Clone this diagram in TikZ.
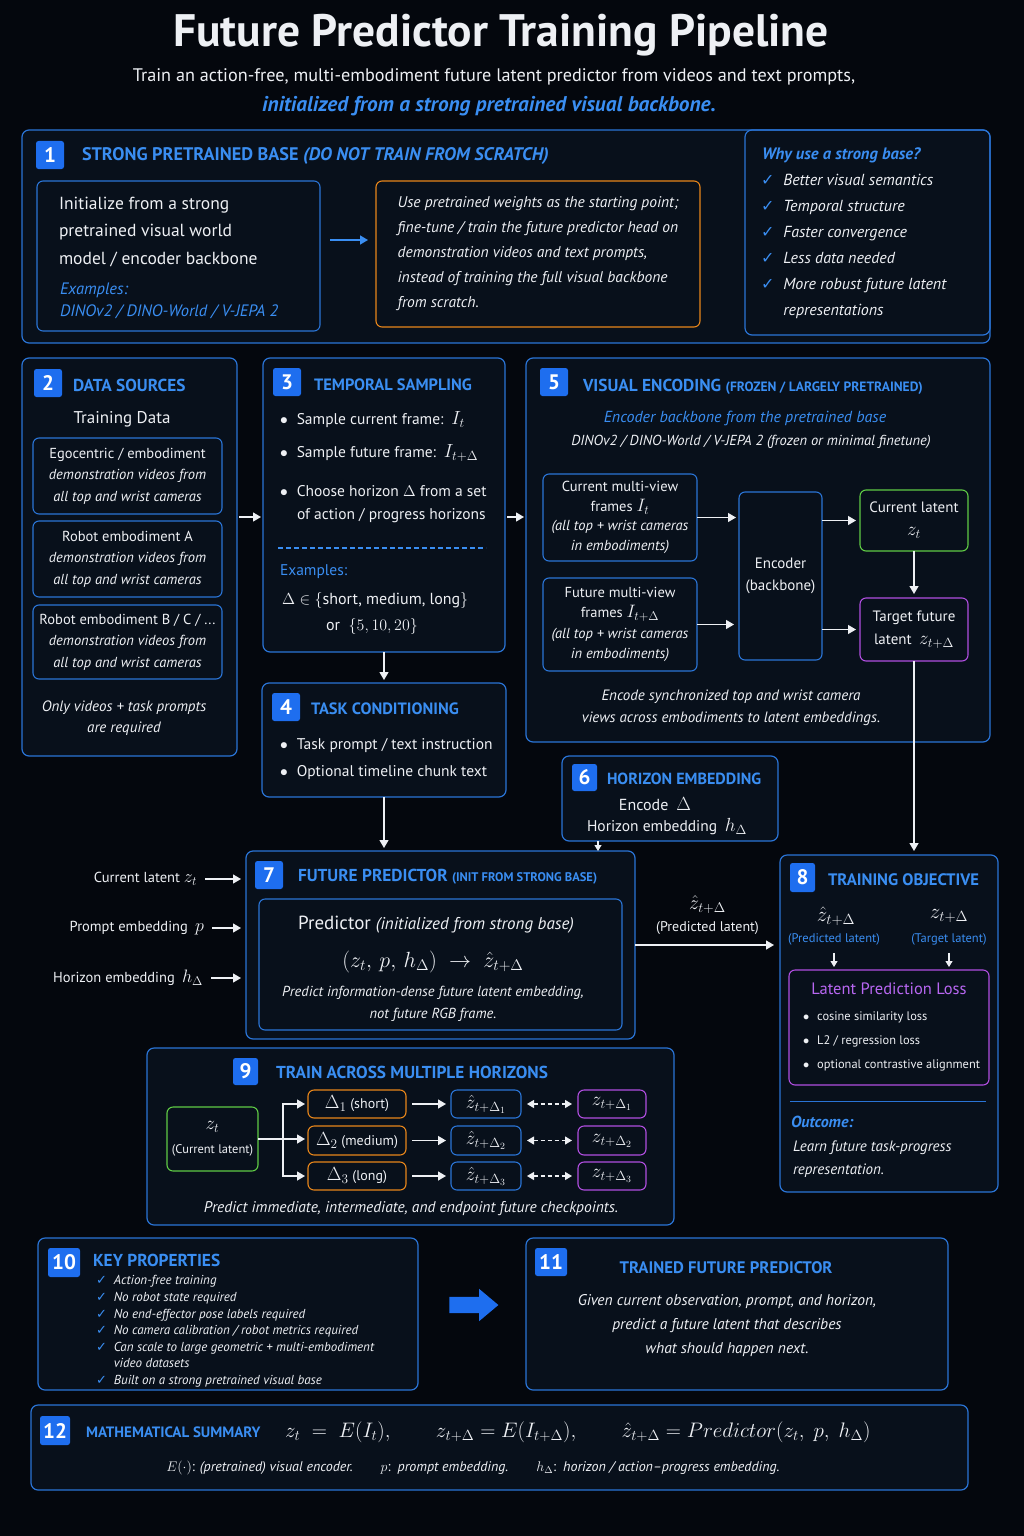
\RequirePackage{fix-cm}
\documentclass[tikz,border=0pt]{standalone}
\usepackage{fontspec}
\setmainfont{PT Sans}
\newfontfamily\symfont{DejaVu Sans}
\usetikzlibrary{arrows.meta,positioning,calc,shapes.arrows}

\definecolor{bgc}{HTML}{04070D}
\definecolor{panelc}{HTML}{08101B}
\definecolor{edgec}{HTML}{2A74D6}
\definecolor{headc}{HTML}{3A8EF2}
\definecolor{badgec}{HTML}{1E6EEF}
\definecolor{orangec}{HTML}{E8861A}
\definecolor{greenc}{HTML}{5FCB45}
\definecolor{purplec}{HTML}{B04EE0}
\definecolor{lossc}{HTML}{B867F2}
\definecolor{txtc}{HTML}{EEF0F4}

\newcommand\fsz[2]{\fontsize{#1}{#2}\selectfont}
\newcommand\ck{{\color{headc}\symfont\bfseries ✓}}

\begin{document}
\begin{tikzpicture}[x=1pt,y=-1pt,>=Stealth,
every node/.append style={text=txtc,inner sep=0pt,outer sep=0pt},
panel/.style={draw=edgec,line width=1.2pt,rounded corners=7pt,fill=panelc,anchor=north west},
inbox/.style={draw=edgec,line width=1.1pt,rounded corners=6pt,anchor=north west,align=center},
orbox/.style={inbox,draw=orangec},
grbox/.style={inbox,draw=greenc},
pubox/.style={inbox,draw=purplec},
badge/.style={fill=badgec,rounded corners=2.5pt,text=white,font=\bfseries\fsz{21}{21},minimum width=28pt,minimum height=28pt,anchor=north west},
head/.style={text=headc,font=\bfseries\fsz{17.3}{20},anchor=west},
arr/.style={-{Triangle[width=9pt,length=8pt]},draw=txtc,line width=1.3pt},
sarr/.style={-{Triangle[width=7pt,length=6pt]},draw=txtc,line width=1.1pt},
darr/.style={{Triangle[width=8pt,length=7pt]}-{Triangle[width=8pt,length=7pt]},draw=txtc,line width=1.2pt,dash pattern=on 4pt off 3pt}]
\fill[bgc] (0,0) rectangle (1024,1536);
\useasboundingbox (0,0) rectangle (1024,1536);

% title
\node[font=\bfseries\fsz{45.5}{48}] (title) at (501,35) {Future Predictor Training Pipeline};
\node[font=\fsz{18.2}{20}] (sub) at (494,77) {Train an action-free, multi-embodiment future latent predictor from videos and text prompts,};
\node[text=headc,font=\bfseries\itshape\fsz{21.3}{24}] (sub2) at (489,106) {initialized from a strong pretrained visual backbone.};

% 1 strong base
\node[panel,minimum width=968pt,minimum height=213pt] (p1) at (22,130) {};
\node[draw=edgec,line width=1.2pt,rounded corners=7pt,anchor=north west,minimum width=245pt,minimum height=205pt] (why) at (745,130) {};
\node[badge] (b1) at (36,141) {1};
\node[head,font=\bfseries\fsz{18.2}{20}] (h1) at (82,156) {STRONG PRETRAINED BASE \textit{(DO NOT TRAIN FROM SCRATCH)}};
\node[inbox,minimum width=283pt,minimum height=150pt] (base) at (37,181) {};
\node[anchor=west,align=left,font=\fsz{17.5}{27.5}] (basetxt) at (59,232) {Initialize from a strong\\pretrained visual world\\model / encoder backbone};
\node[anchor=west,align=left,text=headc,font=\itshape\fsz{16.5}{22}] (basex) at (60,301) {Examples:\\DINOv2 / DINO-World / V-JEPA 2};
\node[orbox,align=left,font=\itshape\fsz{15.5}{25},minimum width=324pt,minimum height=146pt] (reuse) at (376,181) {Use pretrained weights as the starting point;\\fine-tune / train the future predictor head on\\demonstration videos and text prompts,\\instead of training the full visual backbone\\from scratch.};
\node[anchor=west,text=headc,font=\bfseries\itshape\fsz{16.5}{20}] (whyt) at (762,155) {Why use a strong base?};
\node[anchor=west,align=left,font=\itshape\fsz{16}{26}] (whyl) at (761,246) {\ck\hspace{9pt}Better visual semantics\\\ck\hspace{9pt}Temporal structure\\\ck\hspace{9pt}Faster convergence\\\ck\hspace{9pt}Less data needed\\\ck\hspace{9pt}More robust future latent\\\hphantom{\ck}\hspace{9pt}representations};

% 2 data sources
\node[panel,minimum width=215pt,minimum height=398pt] (p2) at (22,358) {};
\node[badge] (b2) at (34,369) {2};
\node[head] (h2) at (73,385) {DATA SOURCES};
\node[font=\fsz{17}{20}] (train) at (122,419) {Training Data};
\node[inbox,font=\fsz{14.5}{21.5},minimum width=189pt,minimum height=76pt] (ego) at (33,438) {Egocentric / embodiment\\\textit{demonstration videos from}\\\textit{all top and wrist cameras}};
\node[inbox,font=\fsz{14.5}{21.5},minimum width=189pt,minimum height=76pt] (roba) at (33,521) {Robot embodiment A\\\textit{demonstration videos from}\\\textit{all top and wrist cameras}};
\node[inbox,font=\fsz{14.5}{21.5},minimum width=189pt,minimum height=74pt] (robb) at (33,605) {Robot embodiment B / C / ...\\\textit{demonstration videos from}\\\textit{all top and wrist cameras}};
\node[align=center,font=\itshape\fsz{15}{21}] (only) at (124,718) {Only videos + task prompts\\are required};

% 3 temporal sampling
\node[panel,minimum width=242pt,minimum height=294pt] (p3) at (263,358) {};
\node[badge] (b3) at (273,368) {3};
\node[head,font=\bfseries\fsz{16.4}{20}] (h3) at (314,385) {TEMPORAL SAMPLING};
\node[anchor=west,font=\fsz{15.5}{20}] (samp1) at (280,420) {$\bullet$\hspace{9pt}Sample current frame:\enspace{\fsz{19}{20}$I_t$}};
\node[anchor=west,font=\fsz{15.5}{20}] (samp2) at (280,453) {$\bullet$\hspace{9pt}Sample future frame:\enspace{\fsz{19}{20}$I_{t+\Delta}$}};
\node[anchor=west,font=\fsz{15.5}{20}] (samp3) at (280,491) {$\bullet$\hspace{9pt}Choose horizon $\Delta$ from a set};
\node[anchor=west,font=\fsz{15.5}{20}] (samp4) at (297,516) {of action / progress horizons};
\draw[headc,line width=1.2pt,dash pattern=on 5pt off 3pt] (278,548) -- (486,548);
\node[anchor=west,text=headc,font=\fsz{15.5}{20}] (ex3) at (280,572) {Examples:};
\node[anchor=west,font=\fsz{16}{20}] (set1) at (282,600) {$\Delta\in\big\{$short, medium, long$\big\}$};
\node[font=\fsz{16}{20}] (set2) at (372,626) {or \ $\big\{5, 10, 20\big\}$};

% 4 task conditioning
\node[panel,minimum width=244pt,minimum height=114pt] (p4) at (262,683) {};
\node[badge] (b4) at (272,693) {4};
\node[head,font=\bfseries\fsz{16.4}{20}] (h4) at (311,709) {TASK CONDITIONING};
\node[anchor=west,font=\fsz{15.5}{20}] (cond1) at (280,746) {$\bullet$\hspace{9pt}Task prompt / text instruction};
\node[anchor=west,font=\fsz{15.5}{20}] (cond2) at (280,773) {$\bullet$\hspace{9pt}Optional timeline chunk text};

% 5 visual encoding
\node[panel,minimum width=464pt,minimum height=384pt] (p5) at (526,358) {};
\node[badge] (b5) at (540,368) {5};
\node[head] (h5) at (583,387) {VISUAL ENCODING {\fsz{13.5}{16}(FROZEN / LARGELY PRETRAINED)}};
\node[text=headc,font=\itshape\fsz{16}{20}] (encsub) at (745,418) {Encoder backbone from the pretrained base};
\node[font=\itshape\fsz{14.5}{20}] (encmod) at (751,442) {DINOv2 / DINO-World / V-JEPA 2 (frozen or minimal finetune)};
\node[inbox,font=\fsz{14.5}{19.5},minimum width=154pt,minimum height=87pt] (cur) at (543,474) {Current multi-view\\frames {\fsz{18}{19}$I_t$}\\\textit{(all top + wrist cameras}\\\textit{in embodiments)}};
\node[inbox,font=\fsz{14.5}{20.5},minimum width=154pt,minimum height=93pt] (fut) at (543,578) {Future multi-view\\frames {\fsz{18}{19}$I_{t+\Delta}$}\\\textit{(all top + wrist cameras}\\\textit{in embodiments)}};
\node[inbox,font=\fsz{15}{22},minimum width=83pt,minimum height=168pt] (enc) at (739,492) {Encoder\\(backbone)};
\node[grbox,font=\fsz{15}{23},minimum width=108pt,minimum height=61pt] (zt) at (860,490) {Current latent\\{\fsz{19}{19}$z_t$}};
\node[pubox,font=\fsz{15}{23},minimum width=108pt,minimum height=63pt] (tgt) at (860,598) {Target future\\latent\enspace{\fsz{19}{19}$z_{t+\Delta}$}};
\node[align=center,font=\itshape\fsz{15}{22}] (enccap) at (731,708) {Encode synchronized top and wrist camera\\views across embodiments to latent embeddings.};

% 6 horizon embedding
\node[panel,minimum width=216pt,minimum height=85pt] (p6) at (562,756) {};
\node[badge,minimum width=25pt,minimum height=27pt] (b6) at (572,764) {6};
\node[head,font=\bfseries\fsz{16.1}{20}] (h6) at (607,779) {HORIZON EMBEDDING};
\node[font=\fsz{16}{20}] (enc6) at (655,804) {Encode\enspace{\fsz{19}{20}$\Delta$}};
\node[font=\fsz{15.5}{20}] (hemb) at (667,827) {Horizon embedding\enspace{\fsz{19}{20}$h_\Delta$}};

% 7 future predictor
\node[panel,minimum width=389pt,minimum height=188pt] (p7) at (246,851) {};
\node[badge] (b7) at (255,861) {7};
\node[head] (h7) at (298,877) {FUTURE PREDICTOR {\fsz{12.5}{14}(INIT FROM STRONG BASE)}};
\node[inbox,minimum width=363pt,minimum height=131pt] (pred) at (259,899) {};
\node[font=\fsz{19}{22}] (predt) at (436,925) {Predictor \textit{\fsz{17}{20}(initialized from strong base)}};
\node[font=\fsz{22}{24}] (predf) at (433,962) {$(z_t,\, p,\, h_\Delta)\;\rightarrow\;\hat z_{t+\Delta}$};
\node[align=center,font=\itshape\fsz{14.5}{22}] (predc) at (433,1004) {Predict information-dense future latent embedding,\\not future RGB frame.};
\node[anchor=east,font=\fsz{14.5}{20}] (inz) at (197,879) {Current latent {\fsz{18}{20}$z_t$}};
\node[anchor=east,font=\fsz{14.5}{20}] (inp) at (204,928) {Prompt embedding\enspace{\fsz{18}{20}$p$}};
\node[anchor=east,font=\fsz{14.5}{20}] (inh) at (203,978) {Horizon embedding\enspace{\fsz{18}{20}$h_\Delta$}};

% 8 training objective
\node[panel,minimum width=218pt,minimum height=337pt] (p8) at (780,855) {};
\node[badge,minimum width=25pt,minimum height=29pt] (b8) at (790,863) {8};
\node[head,font=\bfseries\fsz{16.6}{20}] (h8) at (828,880) {TRAINING OBJECTIVE};
\node[font=\fsz{21}{22}] (pz) at (836,916) {$\hat z_{t+\Delta}$};
\node[text=headc,font=\fsz{12.5}{15}] (plab) at (834,939) {(Predicted latent)};
\node[font=\fsz{21}{22}] (tz) at (949,916) {$z_{t+\Delta}$};
\node[text=headc,font=\fsz{12.5}{15}] (tlab) at (949,939) {(Target latent)};
\node[pubox,minimum width=200pt,minimum height=115pt] (loss) at (789,970) {};
\node[text=lossc,font=\fsz{16.5}{20}] (losst) at (889,989) {Latent Prediction Loss};
\node[anchor=west,align=left,font=\fsz{12.4}{24}] (lossl) at (803,1041) {$\bullet$\hspace{8pt}cosine similarity loss\\$\bullet$\hspace{8pt}L2 / regression loss\\$\bullet$\hspace{8pt}optional contrastive alignment};
\draw[edgec,line width=1pt] (790,1101) -- (986,1101);
\node[anchor=west,text=headc,font=\bfseries\itshape\fsz{16}{20}] (outc) at (791,1122) {Outcome:};
\node[anchor=west,align=left,font=\itshape\fsz{15}{23}] (outt) at (793,1159.5) {Learn future task-progress\\representation.};

% 9 multiple horizons
\node[panel,minimum width=527pt,minimum height=177pt] (p9) at (147,1048) {};
\node[badge,minimum width=25pt,minimum height=27pt] (b9) at (233,1058) {9};
\node[head] (h9) at (276,1072) {TRAIN ACROSS MULTIPLE HORIZONS};
\node[grbox,font=\fsz{12.5}{24},minimum width=91pt,minimum height=64pt] (z9) at (167,1107) {{\fsz{19}{20}$z_t$}\\(Current latent)};
\node[orbox,font=\fsz{14}{16},minimum width=98pt,minimum height=28pt] (dl1) at (308,1090) {{\fsz{19}{18}$\Delta_1$}\ (short)};
\node[orbox,font=\fsz{14}{16},minimum width=98pt,minimum height=29pt] (dl2) at (308,1126) {{\fsz{19}{18}$\Delta_2$}\ (medium)};
\node[orbox,font=\fsz{14}{16},minimum width=98pt,minimum height=28pt] (dl3) at (308,1162) {{\fsz{19}{18}$\Delta_3$}\ (long)};
\node[inbox,font=\fsz{19}{18},minimum width=70pt,minimum height=28pt] (zh1) at (451,1090) {$\hat z_{t+\Delta_1}$};
\node[inbox,font=\fsz{19}{18},minimum width=70pt,minimum height=29pt] (zh2) at (451,1126) {$\hat z_{t+\Delta_2}$};
\node[inbox,font=\fsz{19}{18},minimum width=70pt,minimum height=28pt] (zh3) at (451,1162) {$\hat z_{t+\Delta_3}$};
\node[pubox,font=\fsz{19}{18},minimum width=68pt,minimum height=28pt] (zg1) at (578,1090) {$z_{t+\Delta_1}$};
\node[pubox,font=\fsz{19}{18},minimum width=68pt,minimum height=29pt] (zg2) at (578,1126) {$z_{t+\Delta_2}$};
\node[pubox,font=\fsz{19}{18},minimum width=68pt,minimum height=28pt] (zg3) at (578,1162) {$z_{t+\Delta_3}$};
\node[font=\itshape\fsz{15.5}{20}] (cap9) at (411,1209) {Predict immediate, intermediate, and endpoint future checkpoints.};
\coordinate (fork) at ($(z9.east)+(25,0)$);

% 10 key properties
\node[panel,minimum width=380pt,minimum height=152pt] (p10) at (38,1238) {};
\node[badge,minimum width=32pt,minimum height=29pt] (b10) at (48,1248) {10};
\node[head] (h10) at (93,1260) {KEY PROPERTIES};
\node[anchor=west,align=left,font=\itshape\fsz{13}{16.6}] (props) at (96,1331.5) {\ck\hspace{7pt}Action-free training\\\ck\hspace{7pt}No robot state required\\\ck\hspace{7pt}No end-effector pose labels required\\\ck\hspace{7pt}No camera calibration / robot metrics required\\\ck\hspace{7pt}Can scale to large geometric + multi-embodiment\\\hphantom{\ck}\hspace{7pt}video datasets\\\ck\hspace{7pt}Built on a strong pretrained visual base};
\node[single arrow,fill=badgec,inner ysep=8pt,inner xsep=0pt,minimum width=32pt,minimum height=49pt,single arrow head extend=8pt,single arrow tip angle=80] (go) at (469,1305) {};

% 11 trained predictor
\node[panel,minimum width=422pt,minimum height=152pt] (p11) at (526,1238) {};
\node[badge,minimum width=32pt,minimum height=28pt] (b11) at (535,1248) {11};
\node[text=headc,font=\bfseries\fsz{16.7}{20}] (h11) at (726,1268) {TRAINED FUTURE PREDICTOR};
\node[align=center,font=\itshape\fsz{15.5}{24}] (res) at (727,1326) {Given current observation, prompt, and horizon,\\predict a future latent that describes\\what should happen next.};

% 12 math summary
\node[panel,minimum width=937pt,minimum height=85pt] (p12) at (31,1405) {};
\node[badge,minimum width=30pt,minimum height=29pt] (b12) at (40,1416) {12};
\node[head,font=\bfseries\fsz{15}{20}] (h12) at (86,1432) {MATHEMATICAL SUMMARY};
\node[anchor=west,font=\fsz{21}{24}] (eqs) at (285,1432) {$z_t \;=\; E(I_t),\qquad z_{t+\Delta} = E(I_{t+\Delta}),\qquad \hat z_{t+\Delta} = Predictor(z_t,\ p,\ h_\Delta)$};
\node[font=\fsz{14}{16}] (legend) at (473,1468) {$E(\cdot)$: \textit{(pretrained) visual encoder.}\qquad $p$:\enspace\textit{prompt embedding.}\qquad $h_\Delta$:\enspace\textit{horizon / action--progress embedding.}};

% connectors
\draw[-{Triangle[width=9pt,length=8pt]},draw=headc,line width=1.4pt] ([xshift=10pt,yshift=16pt]base.east) -- ([xshift=-8pt,yshift=14pt]reuse.west);
\draw[arr,shorten <=2pt,shorten >=2pt] ([yshift=40pt]p2.east) -- ([yshift=40pt]p2.east -| p3.west);
\draw[arr,shorten <=2pt,shorten >=2pt] ([yshift=-12pt]p3.east) -- ([yshift=-12pt]p3.east -| p5.west);
\draw[arr,shorten >=3pt] (p3.south) -- (p4.north);
\draw[arr,shorten >=3pt] (p4.south) -- (p4.south |- p7.north);
\draw[sarr] ([xshift=-72pt]p6.south) -- ([xshift=-72pt]p6.south |- p7.north);
\draw[arr,shorten >=3pt] (cur.east) -- (cur.east -| enc.west);
\draw[arr,shorten >=5pt] (fut.east) -- (fut.east -| enc.west);
\draw[arr,shorten >=4pt] (enc.east |- zt.west) -- (zt.west);
\draw[arr,shorten >=4pt] (enc.east |- tgt.west) -- (tgt.west);
\draw[arr,shorten >=4pt] (zt.south) -- (tgt.north);
\draw[arr,shorten >=4pt] (tgt.south) -- (tgt.south |- p8.north);
\draw[arr] ([xshift=8pt]inz.east) -- ([xshift=-5pt]inz.east -| p7.west);
\draw[arr] ([xshift=8pt]inp.east) -- ([xshift=-5pt]inp.east -| p7.west);
\draw[arr] ([xshift=8pt]inh.east) -- ([xshift=-5pt]inh.east -| p7.west);
\draw[arr,shorten >=6pt] (p7.east) -- node[above=10pt,align=center,font=\fsz{14}{22}] (plat) {{\fsz{20}{20}$\hat z_{t+\Delta}$}\\(Predicted latent)} (p7.east -| p8.west);
\draw[sarr,shorten <=8pt,shorten >=3pt] (plab.south) -- (plab.south |- loss.north);
\draw[sarr,shorten <=8pt,shorten >=3pt] (tlab.south) -- (tlab.south |- loss.north);
\draw[arr,shorten >=3pt] (z9.east) -- (z9.east -| dl2.west);
\draw[arr,shorten >=3pt] (fork) |- (dl1.west);
\draw[arr,shorten >=3pt] (fork) |- (dl3.west);
\draw[arr,shorten <=6pt,shorten >=5pt] (dl1.east) -- (zh1.west);
\draw[arr,shorten <=6pt,shorten >=5pt] (dl2.east) -- (zh2.west);
\draw[arr,shorten <=6pt,shorten >=5pt] (dl3.east) -- (zh3.west);
\draw[darr,shorten <=6pt,shorten >=6pt] (zh1.east) -- (zg1.west);
\draw[darr,shorten <=6pt,shorten >=6pt] (zh2.east) -- (zg2.west);
\draw[darr,shorten <=6pt,shorten >=6pt] (zh3.east) -- (zg3.west);
\end{tikzpicture}
\end{document}
